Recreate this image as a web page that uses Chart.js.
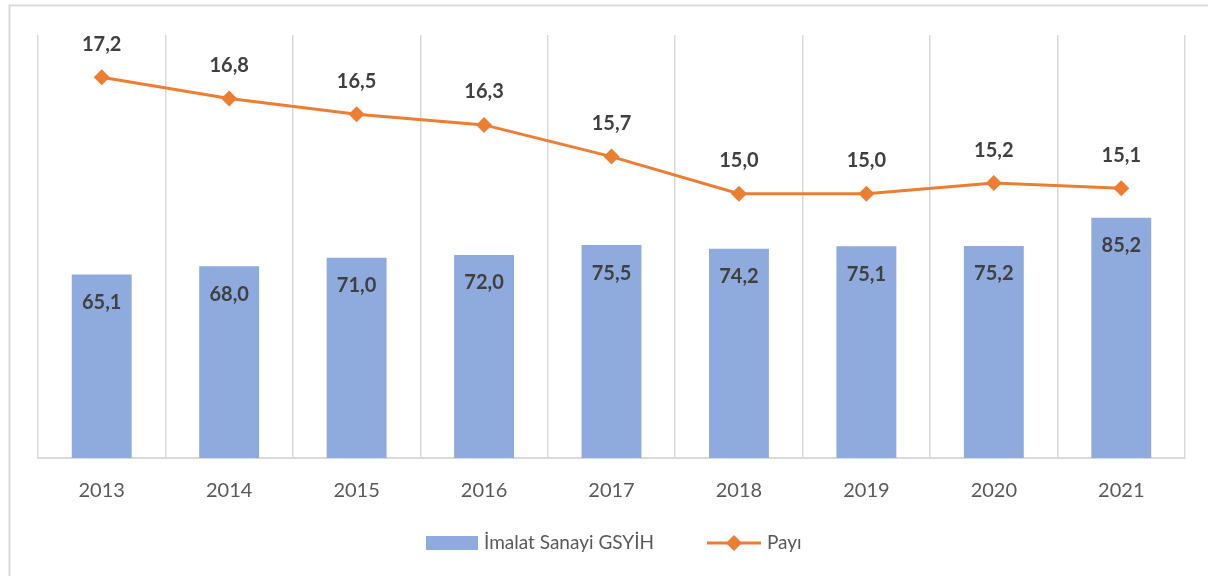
<!DOCTYPE html>
<html>
<head>
<meta charset="utf-8">
<script src="https://cdn.jsdelivr.net/npm/chart.js@4.4.1/dist/chart.umd.min.js"></script>
<style>
  html, body { margin: 0; padding: 0; background: #ffffff; }
  #wrap { width: 1208px; height: 576px; position: relative; }
</style>
</head>
<body>
<div id="wrap"><canvas id="c" width="1208" height="576"></canvas></div>
<script>
const categories = ['2013', '2014', '2015', '2016', '2017', '2018', '2019', '2020', '2021'];
const gsyihValues = [65.1, 68.0, 71.0, 72.0, 75.5, 74.2, 75.1, 75.2, 85.2];
const payValues = [17.2, 16.8, 16.5, 16.3, 15.7, 15.0, 15.0, 15.2, 15.1];
const seriesNames = ['İmalat Sanayi GSYİH', 'Payı'];

const BAR_COLOR = '#8FAADC';
const LINE_COLOR = '#ED7D31';
const LABEL_COLOR = '#404040';
const AXIS_TEXT = '#595959';
const GRID_COLOR = '#D9D9D9';
const FONT = 'Lato, "Open Sans", sans-serif';

function fmt(v) { return v.toFixed(1).replace('.', ','); }

const framePlugin = {
  id: 'frame',
  beforeDraw(chart) {
    const ctx = chart.ctx;
    ctx.save();
    ctx.strokeStyle = GRID_COLOR;
    ctx.lineWidth = 2;
    ctx.beginPath();
    ctx.moveTo(9.5, 576);
    ctx.lineTo(9.5, 5.5);
    ctx.lineTo(1208, 5.5);
    ctx.stroke();
    ctx.restore();
  }
};

const labelPlugin = {
  id: 'valueLabels',
  afterDatasetsDraw(chart) {
    const ctx = chart.ctx;
    ctx.save();
    ctx.font = 'bold 20px ' + FONT;
    ctx.fillStyle = LABEL_COLOR;
    ctx.textAlign = 'center';
    ctx.textBaseline = 'middle';
    chart.data.datasets.forEach((ds, i) => {
      const meta = chart.getDatasetMeta(i);
      meta.data.forEach((el, j) => {
        const v = ds.data[j];
        if (ds.type === 'bar') {
          ctx.fillText(fmt(v), el.x, el.y + 28);
        } else {
          ctx.fillText(fmt(v), el.x, el.y - 33);
        }
      });
    });
    ctx.restore();
  }
};

const legendPlugin = {
  id: 'customLegend',
  afterDraw(chart) {
    const ctx = chart.ctx;
    ctx.save();
    const cy = 543;
    ctx.font = '19px ' + FONT;
    ctx.textBaseline = 'middle';
    ctx.textAlign = 'left';
    // bar entry
    ctx.fillStyle = BAR_COLOR;
    ctx.fillRect(426, 536, 52, 14);
    ctx.fillStyle = AXIS_TEXT;
    ctx.fillText(seriesNames[0], 484, cy);
    // line entry
    ctx.strokeStyle = LINE_COLOR;
    ctx.lineWidth = 3;
    ctx.beginPath();
    ctx.moveTo(707, cy);
    ctx.lineTo(761, cy);
    ctx.stroke();
    ctx.fillStyle = LINE_COLOR;
    ctx.beginPath();
    ctx.moveTo(734, cy - 8);
    ctx.lineTo(742, cy);
    ctx.lineTo(734, cy + 8);
    ctx.lineTo(726, cy);
    ctx.closePath();
    ctx.fill();
    ctx.fillStyle = AXIS_TEXT;
    ctx.fillText(seriesNames[1], 767, cy);
    ctx.restore();
  }
};

new Chart(document.getElementById('c'), {
  data: {
    labels: categories,
    datasets: [
      {
        type: 'line',
        label: seriesNames[1],
        data: payValues,
        yAxisID: 'y1',
        borderColor: LINE_COLOR,
        backgroundColor: LINE_COLOR,
        borderWidth: 3,
        pointStyle: 'rectRot',
        pointRadius: 8,
        pointBorderWidth: 0,
        pointBackgroundColor: LINE_COLOR,
        tension: 0,
        order: 0
      },
      {
        type: 'bar',
        label: seriesNames[0],
        data: gsyihValues,
        yAxisID: 'y',
        backgroundColor: BAR_COLOR,
        borderWidth: 0,
        categoryPercentage: 1,
        barPercentage: 0.47,
        order: 1
      }
    ]
  },
  options: {
    responsive: false,
    animation: false,
    devicePixelRatio: 1,
    layout: { padding: { left: 38, right: 23, top: 35, bottom: 78 } },
    plugins: {
      legend: { display: false },
      tooltip: { enabled: false },
      title: { display: false }
    },
    scales: {
      x: {
        offset: true,
        grid: { display: true, offset: true, color: GRID_COLOR, lineWidth: 1.5, drawTicks: false },
        border: { display: true, color: GRID_COLOR, width: 2 },
        ticks: { color: AXIS_TEXT, font: { family: FONT, size: 20 }, padding: 21, maxRotation: 0 },
        afterFit(scale) { scale.height = 40; }
      },
      y: { display: false, min: 0, max: 150 },
      y1: { display: false, min: 10, max: 18, position: 'right', grid: { display: false } }
    }
  },
  plugins: [framePlugin, labelPlugin, legendPlugin]
});
</script>
</body>
</html>
